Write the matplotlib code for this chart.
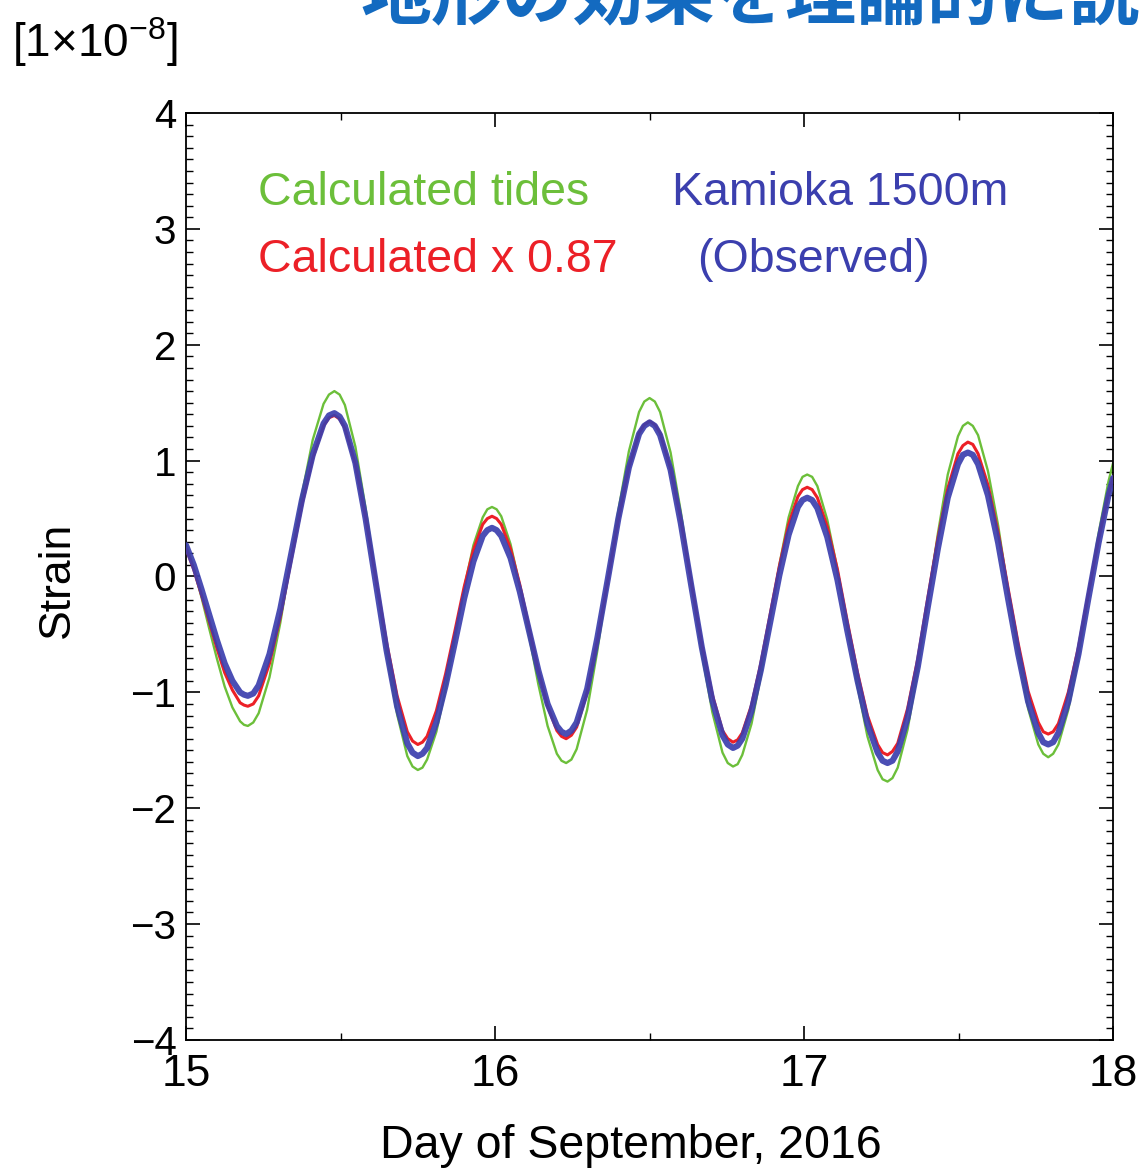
import matplotlib
matplotlib.use('Agg')
import matplotlib.pyplot as plt
from matplotlib.ticker import MultipleLocator

# ---------------- data ----------------
days = [
    15.000, 15.025, 15.050, 15.075, 15.100, 15.125, 15.150, 15.175, 15.1875, 15.200,
    15.2175, 15.235, 15.270, 15.305, 15.340, 15.375, 15.410, 15.445, 15.4625, 15.480,
    15.497, 15.514, 15.548, 15.581, 15.615, 15.649, 15.683, 15.716, 15.733, 15.750,
    15.765, 15.780, 15.810, 15.840, 15.870, 15.900, 15.930, 15.960, 15.975, 15.990,
    16.005, 16.020, 16.050, 16.080, 16.110, 16.140, 16.170, 16.200, 16.215, 16.230,
    16.247, 16.264, 16.298, 16.331, 16.365, 16.399, 16.433, 16.466, 16.483, 16.500,
    16.517, 16.534, 16.568, 16.601, 16.635, 16.669, 16.703, 16.736, 16.753, 16.770,
    16.785, 16.800, 16.830, 16.860, 16.890, 16.920, 16.950, 16.980, 16.995, 17.010,
    17.026, 17.043, 17.075, 17.108, 17.140, 17.173, 17.205, 17.238, 17.254, 17.270,
    17.286, 17.303, 17.335, 17.368, 17.400, 17.433, 17.465, 17.498, 17.514, 17.530,
    17.546, 17.563, 17.595, 17.628, 17.660, 17.693, 17.725, 17.758, 17.774, 17.790,
    17.806, 17.823, 17.855, 17.888, 17.920, 17.953, 17.985, 18.000,
]

calculated_tides = [
    0.28, 0.07, -0.18, -0.45, -0.71, -0.95, -1.13, -1.25, -1.28, -1.29,
    -1.26, -1.18, -0.87, -0.40, 0.16, 0.71, 1.18, 1.49, 1.57, 1.60,
    1.57, 1.48, 1.12, 0.59, -0.04, -0.66, -1.19, -1.55, -1.64, -1.67,
    -1.65, -1.58, -1.34, -0.97, -0.54, -0.10, 0.27, 0.51, 0.58, 0.60,
    0.58, 0.52, 0.28, -0.08, -0.51, -0.93, -1.29, -1.53, -1.59, -1.61,
    -1.58, -1.49, -1.15, -0.64, -0.03, 0.57, 1.08, 1.42, 1.51, 1.54,
    1.51, 1.42, 1.07, 0.56, -0.05, -0.66, -1.17, -1.52, -1.61, -1.64,
    -1.62, -1.54, -1.27, -0.86, -0.38, 0.10, 0.51, 0.78, 0.86, 0.88,
    0.86, 0.78, 0.49, 0.06, -0.45, -0.95, -1.38, -1.67, -1.75, -1.77,
    -1.74, -1.65, -1.32, -0.81, -0.22, 0.37, 0.88, 1.21, 1.30, 1.33,
    1.30, 1.22, 0.91, 0.44, -0.12, -0.67, -1.14, -1.45, -1.53, -1.56,
    -1.53, -1.45, -1.15, -0.70, -0.16, 0.37, 0.82, 0.98,
]

calculated_x087 = [
    0.24, 0.06, -0.16, -0.39, -0.62, -0.83, -0.98, -1.09, -1.11, -1.12,
    -1.10, -1.03, -0.75, -0.35, 0.14, 0.62, 1.02, 1.30, 1.37, 1.39,
    1.36, 1.28, 0.97, 0.51, -0.03, -0.57, -1.03, -1.34, -1.42, -1.45,
    -1.43, -1.38, -1.16, -0.84, -0.47, -0.09, 0.23, 0.45, 0.50, 0.52,
    0.50, 0.45, 0.24, -0.07, -0.44, -0.81, -1.12, -1.33, -1.38, -1.40,
    -1.37, -1.30, -1.00, -0.55, -0.03, 0.49, 0.94, 1.24, 1.31, 1.34,
    1.31, 1.24, 0.93, 0.49, -0.05, -0.58, -1.02, -1.33, -1.40, -1.43,
    -1.41, -1.35, -1.11, -0.75, -0.33, 0.09, 0.45, 0.69, 0.75, 0.77,
    0.75, 0.68, 0.43, 0.06, -0.39, -0.83, -1.20, -1.45, -1.52, -1.54,
    -1.51, -1.44, -1.14, -0.71, -0.19, 0.33, 0.76, 1.06, 1.13, 1.16,
    1.14, 1.06, 0.79, 0.38, -0.10, -0.58, -0.99, -1.26, -1.34, -1.36,
    -1.34, -1.27, -1.00, -0.61, -0.15, 0.32, 0.71, 0.86,
]

observed_kamioka = [
    0.27, 0.10, -0.11, -0.33, -0.55, -0.75, -0.90, -1.00, -1.02, -1.03,
    -1.01, -0.94, -0.67, -0.28, 0.19, 0.66, 1.05, 1.32, 1.39, 1.41,
    1.38, 1.30, 0.98, 0.50, -0.07, -0.64, -1.12, -1.44, -1.52, -1.55,
    -1.53, -1.48, -1.26, -0.94, -0.57, -0.19, 0.13, 0.35, 0.40, 0.42,
    0.40, 0.35, 0.16, -0.13, -0.47, -0.81, -1.10, -1.29, -1.34, -1.36,
    -1.33, -1.26, -0.97, -0.53, -0.02, 0.50, 0.94, 1.23, 1.30, 1.33,
    1.30, 1.22, 0.92, 0.46, -0.08, -0.61, -1.07, -1.37, -1.45, -1.48,
    -1.46, -1.40, -1.16, -0.81, -0.40, 0.01, 0.36, 0.60, 0.66, 0.68,
    0.66, 0.59, 0.34, -0.03, -0.47, -0.90, -1.27, -1.52, -1.59, -1.61,
    -1.59, -1.51, -1.22, -0.78, -0.27, 0.24, 0.68, 0.97, 1.05, 1.07,
    1.05, 0.97, 0.70, 0.29, -0.19, -0.67, -1.08, -1.35, -1.43, -1.45,
    -1.43, -1.35, -1.08, -0.67, -0.19, 0.29, 0.70, 0.85,
]

x_ticks = [15, 16, 17, 18]
y_ticks = [-4, -3, -2, -1, 0, 1, 2, 3, 4]

label_calc = 'Calculated tides'
label_scaled = 'Calculated x 0.87'
label_obs1 = 'Kamioka 1500m'
label_obs2 = '(Observed)'
title_text = '地形の効果を理論的に説明'

# ---------------- style ----------------
GREEN = '#6cbf3a'
RED = '#ec2027'
BLUE = '#3b3fae'
TITLE_BLUE = '#136ac0'

plt.rcParams['font.family'] = ['Liberation Sans', 'DejaVu Sans']
plt.rcParams['mathtext.fontset'] = 'custom'
plt.rcParams['mathtext.rm'] = 'Liberation Sans'
plt.rcParams['mathtext.it'] = 'Liberation Sans:italic'
plt.rcParams['mathtext.bf'] = 'Liberation Sans:bold'
plt.rcParams['axes.unicode_minus'] = True

fig = plt.figure(figsize=(11.4, 11.69), dpi=100)
fig.patch.set_facecolor('white')
ax = fig.add_axes([0.1632, 0.1104, 0.8132, 0.7929])

ax.plot(days, calculated_tides, color=GREEN, lw=1.7, zorder=2,
        solid_capstyle='round', solid_joinstyle='round')
ax.plot(days, calculated_x087, color=RED, lw=2.2, zorder=3,
        solid_capstyle='round', solid_joinstyle='round')
ax.plot(days, observed_kamioka, color=BLUE, lw=4.4, zorder=4, alpha=0.92,
        solid_capstyle='round', solid_joinstyle='round')

ax.set_xlim(15, 18)
ax.set_ylim(-4, 4)
ax.set_xticks(x_ticks)
ax.set_yticks(y_ticks)
ax.set_xticklabels([str(v) for v in x_ticks])
ax.set_yticklabels([str(v).replace('-', '\u2212') for v in y_ticks])
ax.xaxis.set_minor_locator(MultipleLocator(0.5))
ax.yaxis.set_minor_locator(MultipleLocator(0.1))

ax.tick_params(which='both', direction='in', top=True, right=True, color='black')
ax.tick_params(which='major', length=10, width=1.2)
ax.tick_params(which='minor', length=5, width=1.0)
ax.tick_params(axis='x', which='major', labelsize=32, pad=10)
ax.tick_params(axis='y', which='major', labelsize=29, pad=7)
for sp in ax.spines.values():
    sp.set_linewidth(1.3)

# legend-like texts
fig.text(258 / 1140, 1 - 205 / 1169, label_calc, color=GREEN, fontsize=33.5, va='baseline', ha='left')
fig.text(258 / 1140, 1 - 272 / 1169, label_scaled, color=RED, fontsize=33.5, va='baseline', ha='left')
fig.text(672 / 1140, 1 - 205 / 1169, label_obs1, color=BLUE, fontsize=33.5, va='baseline', ha='left')
fig.text(697 / 1140, 1 - 272 / 1169, label_obs2, color=BLUE, fontsize=33.5, va='baseline', ha='left')

# axis labels
fig.text(57 / 1140, 1 - 580 / 1169, 'Strain', rotation=90, fontsize=32, ha='center', va='center')
fig.text(631 / 1140, 1 - 1158 / 1169, 'Day of September, 2016', fontsize=33.5, ha='center', va='baseline')
fig.text(12 / 1140, 1 - 57 / 1169, r'[1$\times$10$^{\mathregular{-8}}$]', fontsize=33, ha='left', va='baseline')

# cropped title at the top
fig.text(360 / 1140, 1 - 19 / 1169, title_text, color=TITLE_BLUE, fontsize=51,
         fontweight='bold', family=['Noto Sans CJK JP', 'DejaVu Sans'], ha='left', va='baseline')

fig.savefig('out.png', dpi=100, facecolor='white')
